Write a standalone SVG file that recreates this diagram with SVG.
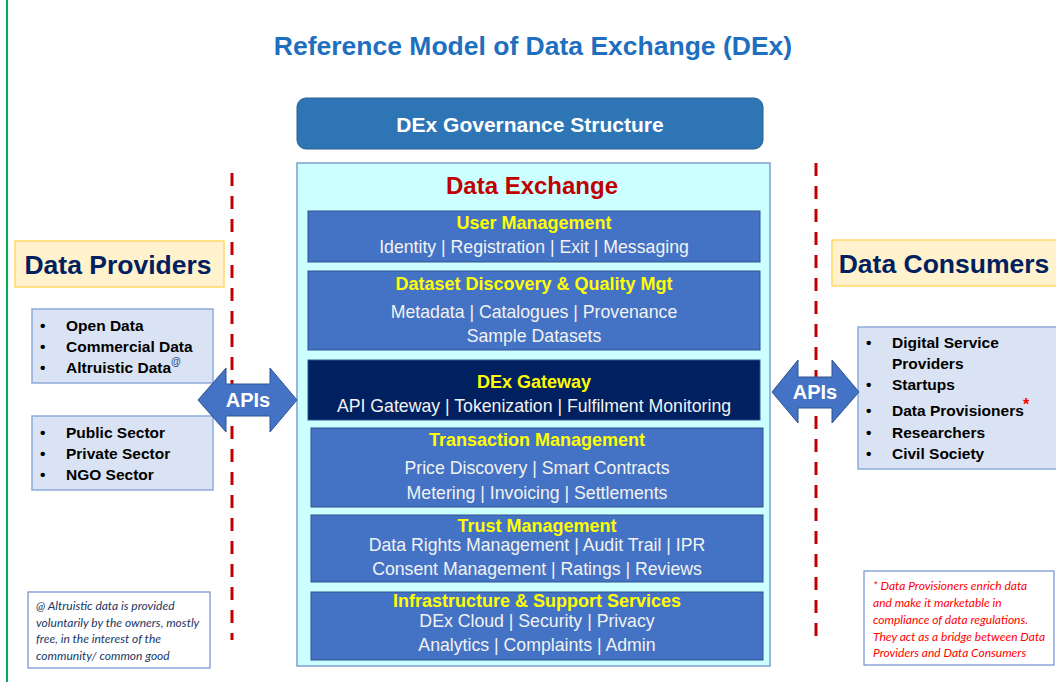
<svg xmlns="http://www.w3.org/2000/svg" width="1056" height="682" viewBox="0 0 1056 682">
<style>
.t{font-family:"Liberation Sans",Arial,sans-serif}
.box{fill:#4472C4;stroke:#2F528F;stroke-width:1}
.hd{font-family:"Liberation Sans",Arial,sans-serif;font-weight:bold;font-size:18px;fill:#FFFF00;text-anchor:middle}
.sb{font-family:"Liberation Sans",Arial,sans-serif;font-size:17.7px;fill:#F2F2F2;text-anchor:middle}
.li{font-family:"Liberation Sans",Arial,sans-serif;font-weight:bold;font-size:15.5px;fill:#000}
.dash{stroke:#C00000;stroke-width:3;stroke-dasharray:13 10;fill:none}
.lbl{fill:#FFF2CC;stroke:#FFD966;stroke-width:1.5}
.lst{fill:#DAE3F3;stroke:#8FAADC;stroke-width:1.5}
.big{font-family:"Liberation Sans",Arial,sans-serif;font-weight:bold;font-size:26.5px;fill:#002060}
.arr{fill:#4472C4;stroke:#2F528F;stroke-width:1}
.api{font-family:"Liberation Sans",Arial,sans-serif;font-weight:bold;font-size:20px;fill:#fff;text-anchor:middle}
.fn{font-family:Lato,"Open Sans",sans-serif;font-style:italic;font-size:12px}
</style>
<rect width="1056" height="682" fill="#fff"/>
<line x1="7" y1="0" x2="7" y2="682" stroke="#00B050" stroke-width="2"/>
<text class="t" x="533" y="55" font-size="26.5" font-weight="bold" fill="#1F6FBF" text-anchor="middle">Reference Model of Data Exchange (DEx)</text>

<g id="governance">
<rect x="297" y="98" width="466" height="51" rx="9" fill="#2E75B6" stroke="#2E5E8F"/>
<text class="t" x="530" y="132" font-size="21" font-weight="bold" fill="#fff" text-anchor="middle">DEx Governance Structure</text>
</g>

<g id="data-exchange">
<rect x="297" y="163" width="473" height="503" fill="#CCFFFF" stroke="#7F9FCF" stroke-width="1.5"/>
<text class="t" x="532" y="194" font-size="24" font-weight="bold" fill="#C00000" text-anchor="middle">Data Exchange</text>
</g>

<g id="user-mgmt">
<rect class="box" x="308" y="211" width="452" height="51"/>
<text class="hd" x="534" y="229">User Management</text>
<text class="sb" x="534" y="253">Identity | Registration | Exit | Messaging</text>
</g>

<g id="dataset-discovery">
<rect class="box" x="308" y="271" width="452" height="79"/>
<text class="hd" x="534" y="290">Dataset Discovery &amp; Quality Mgt</text>
<text class="sb" x="534" y="318">Metadata | Catalogues | Provenance</text>
<text class="sb" x="534" y="342">Sample Datasets</text>
</g>

<g id="gateway">
<rect x="308" y="360" width="452" height="60" fill="#002060" stroke="#2F528F"/>
<text class="hd" x="534" y="388">DEx Gateway</text>
<text class="sb" x="534" y="412">API Gateway | Tokenization | Fulfilment Monitoring</text>
</g>

<g id="transaction">
<rect class="box" x="311" y="428" width="452" height="79"/>
<text class="hd" x="537" y="446">Transaction Management</text>
<text class="sb" x="537" y="474">Price Discovery | Smart Contracts</text>
<text class="sb" x="537" y="499">Metering | Invoicing | Settlements</text>
</g>

<g id="trust">
<rect class="box" x="311" y="515" width="452" height="67"/>
<text class="hd" x="537" y="532">Trust Management</text>
<text class="sb" x="537" y="551">Data Rights Management | Audit Trail | IPR</text>
<text class="sb" x="537" y="575">Consent Management | Ratings | Reviews</text>
</g>

<g id="infra">
<rect class="box" x="311" y="592" width="452" height="68"/>
<text class="hd" x="537" y="607">Infrastructure &amp; Support Services</text>
<text class="sb" x="537" y="627">DEx Cloud | Security | Privacy</text>
<text class="sb" x="537" y="651">Analytics | Complaints | Admin</text>
</g>

<g id="dividers">
<line class="dash" x1="232" y1="173" x2="232" y2="640"/>
<line class="dash" x1="816" y1="163" x2="816" y2="640"/>
</g>

<g id="data-providers">
<rect class="lbl" x="15" y="241" width="209" height="46"/>
<text class="big" x="118" y="274" text-anchor="middle">Data Providers</text>
</g>

<g id="provider-types">
<rect class="lst" x="32" y="309" width="181" height="74"/>
<text class="li" x="40" y="331">•</text><text class="li" x="66" y="331">Open Data</text>
<text class="li" x="40" y="352">•</text><text class="li" x="66" y="352">Commercial Data</text>
<text class="li" x="40" y="373">•</text><text class="li" x="66" y="373">Altruistic Data</text>
<text class="t" x="171" y="365" font-size="10" font-weight="bold" fill="#2F5597">@</text>
</g>

<g id="provider-sectors">
<rect class="lst" x="32" y="416" width="181" height="74"/>
<text class="li" x="40" y="438">•</text><text class="li" x="66" y="438">Public Sector</text>
<text class="li" x="40" y="459">•</text><text class="li" x="66" y="459">Private Sector</text>
<text class="li" x="40" y="480">•</text><text class="li" x="66" y="480">NGO Sector</text>
</g>

<g id="data-consumers">
<rect class="lbl" x="832" y="240" width="230" height="46"/>
<text class="big" x="944" y="273" text-anchor="middle">Data Consumers</text>
</g>

<g id="consumer-types">
<rect class="lst" x="858" y="327" width="204" height="142"/>
<text class="li" x="866" y="348">•</text><text class="li" x="892" y="348">Digital Service</text>
<text class="li" x="892" y="369">Providers</text>
<text class="li" x="866" y="390">•</text><text class="li" x="892" y="390">Startups</text>
<text class="li" x="866" y="416">•</text><text class="li" x="892" y="416">Data Provisioners</text>
<text class="t" x="1023" y="410" font-size="16" font-weight="bold" fill="#FF0000">*</text>
<text class="li" x="866" y="438">•</text><text class="li" x="892" y="438">Researchers</text>
<text class="li" x="866" y="459">•</text><text class="li" x="892" y="459">Civil Society</text>
</g>

<g id="connectors">
<g id="apis-left">
<polygon class="arr" points="198,400 226,368 226,384 270,384 270,368 297,400 270,432 270,416 226,416 226,432"/>
<text class="api" x="248" y="407">APIs</text>
</g>
<g id="apis-right">
<polygon class="arr" points="772,392 798,360 798,377 832,377 832,360 859,392 832,423 832,408 798,408 798,423"/>
<text class="api" x="815" y="399">APIs</text>
</g>
</g>

<g id="note-altruistic">
<rect x="28" y="592" width="182" height="76" fill="#fff" stroke="#6F8FD0" stroke-width="1.2"/>
<text class="fn" fill="#203864"><tspan x="36" y="610">@ Altruistic data is provided</tspan><tspan x="36" y="627">voluntarily by the owners, mostly</tspan><tspan x="36" y="643">free, in the interest of the</tspan><tspan x="36" y="660">community/ common good</tspan></text>
</g>

<g id="note-provisioners">
<rect x="864" y="571" width="190" height="94" fill="#fff" stroke="#6F8FD0" stroke-width="1.2"/>
<text class="fn" fill="#FF0000"><tspan x="873" y="590">* Data Provisioners enrich data</tspan><tspan x="873" y="607">and make it marketable in</tspan><tspan x="873" y="624">compliance of data regulations.</tspan><tspan x="873" y="641">They act as a bridge between  Data</tspan><tspan x="873" y="657">Providers and Data Consumers</tspan></text>
</g>
</svg>
